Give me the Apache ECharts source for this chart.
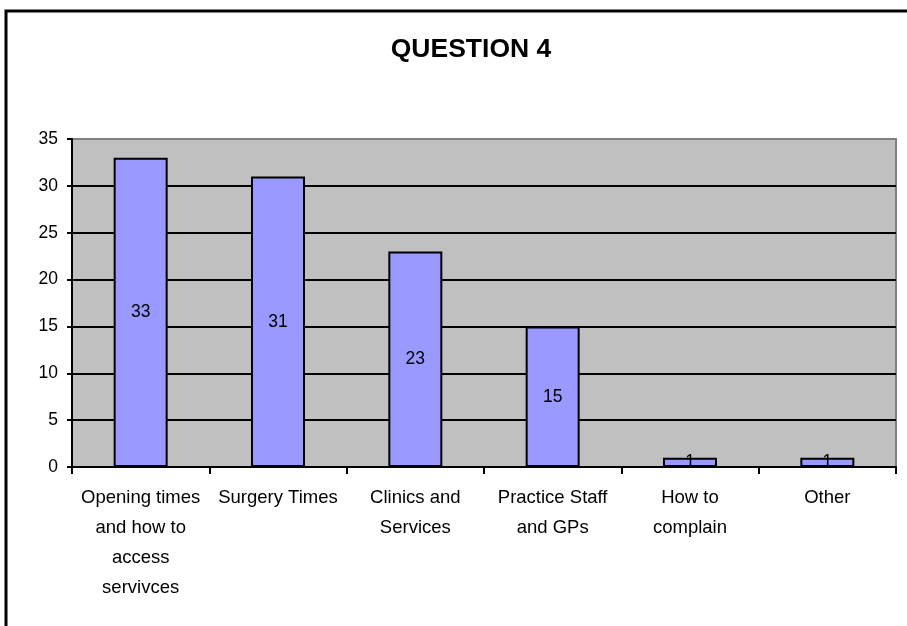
<!DOCTYPE html>
<html>
<head>
<meta charset="utf-8">
<script src="https://cdn.jsdelivr.net/npm/echarts@6/dist/echarts.min.js"></script>
<style>
  html, body { margin: 0; padding: 0; background: #fff; }
  #chart { width: 907px; height: 626px; }
</style>
</head>
<body>
<div id="chart"></div>
<script>
// Survey answers for question 4
var titleText = 'QUESTION 4';
var categories = [
  'Opening times\nand how to\naccess\nservivces',
  'Surgery Times',
  'Clinics and\nServices',
  'Practice Staff\nand GPs',
  'How to\ncomplain',
  'Other'
];
var counts = [33, 31, 23, 15, 1, 1];
var yTicks = [0, 5, 10, 15, 20, 25, 30, 35];

var font = '"Liberation Sans", Arial, sans-serif';
var chart = echarts.init(document.getElementById('chart'), null, { renderer: 'canvas' });

// top gridline is drawn grey like the plot frame, the rest black
var splitColors = yTicks.map(function (v, i) { return i === yTicks.length - 1 ? '#808080' : '#000'; });

chart.setOption({
  animation: false,
  backgroundColor: '#fff',
  title: {
    text: titleText,
    left: 466,
    textAlign: 'center',
    top: 31,
    textStyle: { fontFamily: font, fontWeight: 'bold', fontSize: 26.5, color: '#000' }
  },
  graphic: [{
    type: 'rect',
    shape: { x: 6, y: 11, width: 1000, height: 1000 },
    style: { fill: 'none', stroke: '#000', lineWidth: 3 },
    silent: true
  }],
  grid: {
    left: 72, right: 11, top: 139, bottom: 159,
    show: true, backgroundColor: '#C0C0C0', borderColor: '#808080', borderWidth: 2
  },
  xAxis: {
    type: 'category',
    data: categories,
    axisLine: { lineStyle: { color: '#000', width: 2 } },
    axisTick: { show: true, length: 7, interval: 0, lineStyle: { color: '#000', width: 2 } },
    axisLabel: {
      interval: 0, margin: 16, color: '#000', fontFamily: font, fontSize: 18.5,
      lineHeight: 30, verticalAlign: 'top'
    },
    splitLine: { show: false }
  },
  yAxis: {
    type: 'value',
    min: yTicks[0], max: yTicks[yTicks.length - 1], interval: 5,
    axisLine: { show: true, lineStyle: { color: '#000', width: 2 } },
    axisTick: { show: true, length: 5, lineStyle: { color: '#000', width: 2 } },
    axisLabel: { margin: 14, color: '#000', fontFamily: font, fontSize: 17.5 },
    splitLine: { show: true, lineStyle: { color: splitColors, width: 2 } }
  },
  series: [{
    type: 'bar',
    data: counts,
    barWidth: 54,
    itemStyle: { color: '#9999FF', borderColor: '#000', borderWidth: 2 },
    label: {
      show: true, position: 'inside', color: '#000',
      fontFamily: font, fontSize: 17.5
    }
  }]
});
</script>
</body>
</html>
